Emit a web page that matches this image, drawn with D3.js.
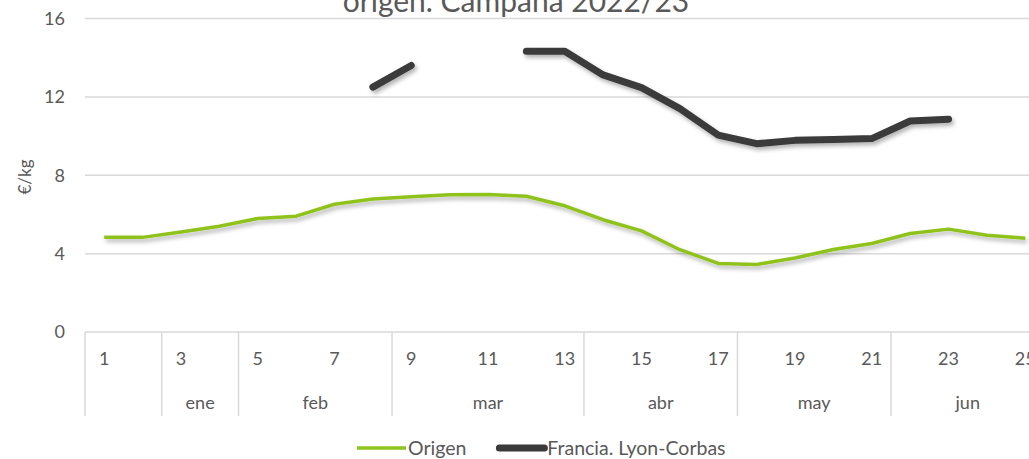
<!DOCTYPE html>
<html>
<head>
<meta charset="utf-8">
<script src="https://cdn.jsdelivr.net/npm/d3@7"></script>
<style>
  body { margin: 0; background: #fff; overflow: hidden; }
  text { font-family: Lato, "Open Sans", sans-serif; fill: #595959; }
</style>
</head>
<body>
<div id="chart"></div>
<script>
var weeks = [1, 2, 3, 4, 5, 6, 7, 8, 9, 10, 11, 12, 13, 14, 15, 16, 17, 18, 19, 20, 21, 22, 23, 24, 25];
var weekLabels = ["1", "", "3", "", "5", "", "7", "", "9", "", "11", "", "13", "", "15", "", "17", "", "19", "", "21", "", "23", "", "25"];
var months = ["", "ene", "feb", "mar", "abr", "may", "jun"];
var monthWeeks = [2, 2, 4, 5, 4, 4, 4];
var origen = [4.83, 4.83, 5.1, 5.4, 5.79, 5.91, 6.52, 6.79, 6.9, 7.0, 7.02, 6.93, 6.44, 5.73, 5.16, 4.2, 3.5, 3.45, 3.78, 4.21, 4.52, 5.03, 5.25, 4.94, 4.79];
var francia = [null, null, null, null, null, null, null, 12.5, 13.6, null, null, 14.33, 14.33, 13.12, 12.47, 11.4, 10.05, 9.61, 9.78, 9.83, 9.87, 10.77, 10.86, null, null];
var yTicks = [0, 4, 8, 12, 16];
var seriesNames = ["Origen", "Francia. Lyon-Corbas"];
var colors = ["#8fc31f", "#3a3a3a"];

(function() {
  var width = 1029;
  var height = 459;

  var svg = d3.select("#chart")
    .append("svg")
    .attr("width", width)
    .attr("height", height);

  var defs = svg.append("defs");
  var f = defs.append("filter")
    .attr("id", "shadow")
    .attr("x", "-10%").attr("y", "-50%")
    .attr("width", "130%").attr("height", "250%");
  f.append("feDropShadow")
    .attr("dx", 2).attr("dy", 3)
    .attr("stdDeviation", 2)
    .attr("flood-color", "#000")
    .attr("flood-opacity", 0.3);

  var x = d3.scaleBand().domain(weeks).range([85, 1044.5]);
  var y = d3.scaleLinear().domain([0, 16]).range([332, 18.5]);

  // title (cut off at top in the original)
  svg.append("text")
    .attr("x", 516)
    .attr("y", 12)
    .attr("text-anchor", "middle")
    .style("font-size", "30px")
    .text("origen. Campaña 2022/23");

  // gridlines
  svg.selectAll(".grid")
    .data(yTicks)
    .enter().append("line")
    .attr("x1", 85)
    .attr("x2", x.range()[1])
    .attr("y1", function(d){ return y(d); })
    .attr("y2", function(d){ return y(d); })
    .attr("stroke", "#d9d9d9")
    .attr("stroke-width", 1.5);

  var yAxis = svg.append("g")
    .attr("transform", "translate(85,0)")
    .call(d3.axisLeft(y).tickValues(yTicks).tickSize(0).tickPadding(20));
  yAxis.select(".domain").remove();
  yAxis.selectAll("text")
    .style("font-size", "18px")
    .style("font-family", "Lato, sans-serif")
    .attr("fill", "#595959");

  svg.append("text")
    .attr("transform", "translate(31,177) rotate(-90)")
    .attr("text-anchor", "middle")
    .style("font-size", "17px")
    .text("€/kg");

  // category table: week labels
  var xAxis = svg.append("g")
    .attr("transform", "translate(0,332)")
    .call(d3.axisBottom(x).tickSize(0).tickPadding(20)
      .tickFormat(function(d, i){ return weekLabels[i]; }));
  xAxis.select(".domain").remove();
  xAxis.selectAll("text")
    .style("font-size", "18px")
    .style("font-family", "Lato, sans-serif")
    .attr("fill", "#595959");

  // month groups
  var start = 0;
  var groups = months.map(function(m, i){
    var g = { name: m, first: weeks[start], last: weeks[start + monthWeeks[i] - 1] };
    start += monthWeeks[i];
    return g;
  });

  svg.selectAll(".sep")
    .data(groups)
    .enter().append("line")
    .attr("x1", function(d){ return x(d.first); })
    .attr("x2", function(d){ return x(d.first); })
    .attr("y1", 332)
    .attr("y2", 416)
    .attr("stroke", "#d9d9d9")
    .attr("stroke-width", 1.5);

  svg.selectAll(".month")
    .data(groups)
    .enter().append("text")
    .attr("x", function(d){ return (x(d.first) + x(d.last) + x.bandwidth()) / 2; })
    .attr("y", 409)
    .attr("text-anchor", "middle")
    .style("font-size", "18px")
    .text(function(d){ return d.name; });

  // lines
  var line = d3.line()
    .defined(function(d){ return d != null; })
    .x(function(d, i){ return x(weeks[i]) + x.bandwidth() / 2; })
    .y(function(d){ return y(d); });

  svg.append("path")
    .datum(origen)
    .attr("d", line)
    .attr("fill", "none")
    .attr("stroke", colors[0])
    .attr("stroke-width", 3.5)
    .attr("stroke-linejoin", "round")
    .attr("filter", "url(#shadow)");

  svg.append("path")
    .datum(francia)
    .attr("d", line)
    .attr("fill", "none")
    .attr("stroke", colors[1])
    .attr("stroke-width", 7)
    .attr("stroke-linecap", "round")
    .attr("stroke-linejoin", "round")
    .attr("filter", "url(#shadow)");

  // legend
  var lx = 357;
  seriesNames.forEach(function(name, i){
    svg.append("line")
      .attr("x1", lx + (i == 0 ? 0 : 3)).attr("x2", lx + (i == 0 ? 49 : 48))
      .attr("y1", 448).attr("y2", 448)
      .attr("stroke", colors[i])
      .attr("stroke-width", i == 0 ? 3.5 : 7)
      .attr("stroke-linecap", i == 0 ? "butt" : "round");
    var t = svg.append("text")
      .attr("x", lx + 51)
      .attr("y", 455)
      .style("font-size", "19.5px")
      .text(name);
    lx = lx + 51 + t.node().getComputedTextLength() + 30;
  });
})();
</script>
</body>
</html>
